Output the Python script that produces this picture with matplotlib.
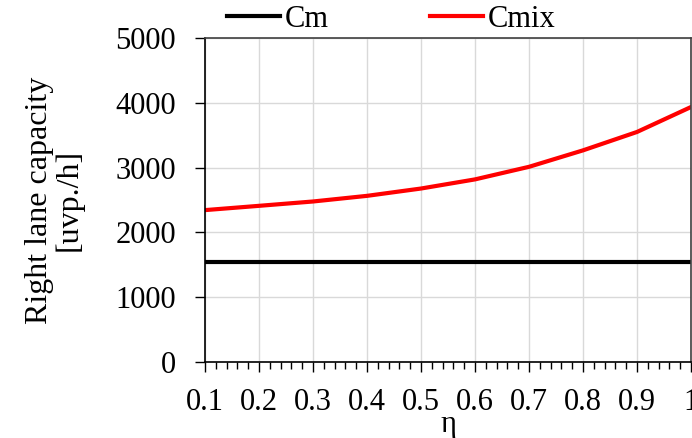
import matplotlib.pyplot as plt
from matplotlib.ticker import MultipleLocator

eta = [0.1, 0.2, 0.3, 0.4, 0.5, 0.6, 0.7, 0.8, 0.9, 1.0]
cm = [1545] * len(eta)
cmix = [2344, 2410, 2477, 2564, 2677, 2818, 3012, 3266, 3550, 3935]
xtick_labels = ["0.1", "0.2", "0.3", "0.4", "0.5", "0.6", "0.7", "0.8", "0.9", "1"]

plt.rcParams["font.family"] = ["Liberation Serif", "DejaVu Serif"]

fig = plt.figure(figsize=(6.92, 4.38), dpi=100)
ax = fig.add_axes([205 / 692, 1 - 362 / 438, 486 / 692, 324 / 438])

ax.plot(eta, cm, color="black", lw=3, label="Cm")
ax.plot(eta, cmix, color="#ff0000", lw=3, label="Cmix")

ax.set_xlim(0.1, 1.0)
ax.set_ylim(0, 5000)
ax.set_xticks(eta)
ax.set_xticklabels(xtick_labels)
ax.xaxis.set_minor_locator(MultipleLocator(0.02))
ax.yaxis.set_major_locator(MultipleLocator(1000))

ax.grid(True, which="major", color="#d9d9d9", lw=1)
ax.set_axisbelow(True)

ax.tick_params(axis="both", which="major", labelsize=22, direction="out", length=7, width=1)
ax.tick_params(axis="x", which="minor", direction="out", length=5, width=1)
ax.tick_params(axis="x", pad=12)
ax.tick_params(axis="y", pad=14)

for side in ["left", "bottom"]:
    ax.spines[side].set_color("black")
    ax.spines[side].set_linewidth(1.2)
for side in ["top", "right"]:
    ax.spines[side].set_color("#404040")
    ax.spines[side].set_linewidth(1.2)

ax.set_xlabel("η", fontsize=22, labelpad=-5)
ax.set_ylabel("Right lane capacity\n[uvp./h]", fontsize=23, linespacing=1.0, labelpad=23)

ax.legend(loc="lower center", bbox_to_anchor=(0.383, 0.975), ncol=2, frameon=False,
          fontsize=22, handlelength=1.75, handletextpad=0.15, columnspacing=3.3,
          borderaxespad=0)

fig.savefig("out.png", dpi=100)
